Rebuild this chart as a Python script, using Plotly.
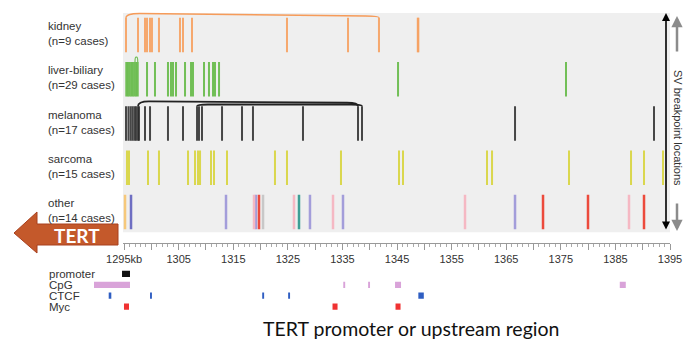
import plotly.graph_objects as go

W, H = 684, 342

# ---------------------------------------------------------------- data
axis_kb = [1294.8, 1395.0]
major_tick_kb = list(range(1295, 1396, 5))
tick_labels = ["1295kb", "", "1305", "", "1315", "", "1325", "", "1335", "", "1345", "",
               "1355", "", "1365", "", "1375", "", "1385", "", "1395"]

group_names = ["kidney", "liver-biliary", "melanoma", "sarcoma", "other"]
case_counts = [9, 29, 17, 15, 14]

# SV breakpoint positions (kb)
kidney_bp = [1295.35, 1297.55, 1298.83, 1299.2, 1299.75, 1300.11, 1301.39, 1305.24,
             1305.79, 1307.44, 1324.84, 1336.02, 1341.69, 1348.8, 1348.9]
liver_bp = [1295.4, 1295.7, 1296.0, 1296.3, 1296.6, 1296.9, 1297.2, 1297.5,
            1299.2, 1300.66, 1303.04, 1303.59, 1303.96, 1304.51, 1306.16, 1307.26,
            1307.62, 1309.64, 1310.55, 1311.29, 1311.65, 1312.39, 1345.18, 1375.95]
melanoma_bp = [1295.35, 1295.8, 1296.2, 1296.55, 1296.9, 1297.18, 1297.55,
               1297.73, 1298.83, 1299.75, 1303.04, 1305.79, 1308.36, 1308.72, 1309.27,
               1312.94, 1316.6, 1318.61, 1327.77, 1337.85, 1338.58, 1366.61, 1392.07]
sarcoma_bp = [1295.53, 1295.9, 1299.38, 1301.39, 1306.71, 1307.99, 1308.54, 1308.91,
              1310.92, 1311.47, 1313.85, 1322.64, 1324.84, 1334.73, 1345.36, 1346.09,
              1361.48, 1362.4, 1376.5, 1387.86, 1390.24, 1393.72]
other_bp = [1295.17, 1296.27, 1313.67, 1318.8, 1319.16, 1319.71, 1320.45, 1326.12,
            1327.04, 1329.05, 1333.27, 1335.1, 1357.45, 1366.61, 1371.74, 1379.98,
            1387.49, 1390.24]
other_type = ["a", "b", "c", "d", "c", "e", "f", "d", "g", "c", "d", "c", "d", "c",
              "e", "e", "d", "e"]

# breakpoint pairs joined by an arc (kb)
kidney_pairs = [(1295.35, 1341.69)]
liver_pairs = [(1297.0, 1297.5)]
melanoma_pairs = [(1297.55, 1337.85), (1308.36, 1338.58)]

# annotation tracks: intervals (kb)
track_names = ["promoter", "CpG", "CTCF", "Myc"]
promoter_iv = [(1294.62, 1296.08)]
cpg_iv = [(1289.49, 1296.08), (1335.15, 1335.5), (1339.7, 1340.05),
          (1344.63, 1345.73), (1385.8, 1386.9)]
ctcf_iv = [(1292.18, 1292.66), (1299.75, 1300.1), (1320.3, 1320.65),
           (1325.05, 1325.4), (1348.9, 1349.9)]
myc_iv = [(1294.98, 1295.9), (1333.18, 1334.1), (1344.72, 1345.64)]

# ---------------------------------------------------------------- styling
FONT = "Liberation Sans, Arial, sans-serif"
TXT = "#333333"
row_colors = {
    "kidney": "rgba(246,160,95,0.9)",
    "liver-biliary": "rgba(100,185,70,0.9)",
    "melanoma": "rgba(40,40,40,0.85)",
    "sarcoma": "rgba(215,212,60,0.9)",
}
other_colors = {"a": "#F6C87A", "b": "#6E6EC2", "c": "#A39DDA", "d": "#F5B8C3",
                "e": "#EC4A3C", "f": "#C8C8C8", "g": "#3F9E95"}
track_colors = ["#111111", "#D9A3D9", "#2F5EC2", "#F03232"]

X_L, X_R = 123, 670            # gray panel, pixels
Y_TOP, PITCH = 13, 44.2        # pixel of y=5 and pixels per row
y_range = [-0.05, 5.2]
HALF = 0.39                    # half height of a breakpoint mark (rows)

def fx(p):
    return p / W

def fy(p):
    return 1 - p / H

dom_top = Y_TOP - (y_range[1] - 5) * PITCH
dom_bot = Y_TOP + (5 - y_range[0]) * PITCH
ppk = (X_R - X_L) / (axis_kb[1] - axis_kb[0])

centers = {g: 4.5 - i for i, g in enumerate(group_names)}

fig = go.Figure()

def segments(values, c, half=HALF):
    xs, ys = [], []
    for v in values:
        xs += [v, v, None]
        ys += [c - half, c + half, None]
    return xs, ys

series = {"kidney": kidney_bp, "liver-biliary": liver_bp,
          "melanoma": melanoma_bp, "sarcoma": sarcoma_bp}
for g, vals in series.items():
    xs, ys = segments(vals, centers[g])
    fig.add_trace(go.Scatter(x=xs, y=ys, mode="lines", hoverinfo="skip",
                             line=dict(color=row_colors[g], width=2)))

for t, col in other_colors.items():
    vals = [v for v, k in zip(other_bp, other_type) if k == t]
    xs, ys = segments(vals, centers["other"])
    fig.add_trace(go.Scatter(x=xs, y=ys, mode="lines", hoverinfo="skip",
                             line=dict(color=col, width=2.5)))

shapes = [dict(type="rect", xref="x", yref="y", x0=axis_kb[0], x1=axis_kb[1],
               y0=0.04, y1=5, fillcolor="#EFEFEF", line=dict(width=0), layer="below")]

def arc(x1, x2, y0, yl, yr, r, color, width):
    path = (f"M {x1},{y0} Q {x1},{yl} {x1 + r},{yl} "
            f"L {x2 - r},{yr} Q {x2},{yr} {x2},{y0}")
    return dict(type="path", xref="x", yref="y", path=path,
                line=dict(color=color, width=width))

top_k = centers["kidney"] + HALF
for a, b in kidney_pairs:
    shapes.append(arc(a, b, top_k, 4.99, 4.93, 2.5, "rgba(246,150,80,0.95)", 1.5))
top_l = centers["liver-biliary"] + HALF
for a, b in liver_pairs:
    shapes.append(arc(a, b, top_l, top_l + 0.11, top_l + 0.11, 0.2, "rgba(100,185,70,0.9)", 1.2))
top_m = centers["melanoma"] + HALF
mel_peaks = [(3.0, 2.97), (2.93, 2.93)]
for (a, b), (pl, pr) in zip(melanoma_pairs, mel_peaks):
    shapes.append(arc(a, b, top_m, pl, pr, 2.0, "#222222", 1.8))

# annotation tracks (second subplot)
for row, (ivs, col) in enumerate(zip([promoter_iv, cpg_iv, ctcf_iv, myc_iv], track_colors)):
    yc = 3 - row
    for s, e in ivs:
        shapes.append(dict(type="rect", xref="x2", yref="y2", x0=s, x1=e,
                           y0=yc - 0.29, y1=yc + 0.29, fillcolor=col, line=dict(width=0)))

# TERT direction arrow
pts = [(14, 233), (37, 212), (37, 224), (118, 224), (118, 245), (37, 245), (37, 253)]
path = "M " + " L ".join(f"{fx(x)},{fy(y)}" for x, y in pts) + " Z"
shapes.append(dict(type="path", xref="paper", yref="paper", path=path,
                   fillcolor="#C4592B", line=dict(color="#A8401E", width=1)))

fig.add_trace(go.Scatter(x=[axis_kb[0]], y=[0], xaxis="x2", yaxis="y2",
                         mode="markers", marker=dict(opacity=0), hoverinfo="skip"))

annotations = []
for g, n in zip(group_names, case_counts):
    annotations.append(dict(text=f"{g}<br>(n={n} cases)", xref="paper", yref="y",
                            x=fx(47), y=centers[g], xanchor="left", yanchor="middle",
                            align="left", showarrow=False, borderpad=0, yshift=1.5,
                            font=dict(family=FONT, size=11.5, color=TXT)))
for i, (name, ypx) in enumerate(zip(track_names, [274, 284.5, 295.5, 306.5])):
    annotations.append(dict(text=name, xref="paper", yref="paper", x=fx(47), y=fy(ypx),
                            xanchor="left", yanchor="middle", showarrow=False,
                            font=dict(family=FONT, size=11.5, color=TXT)))
annotations.append(dict(text="<b>TERT</b>", xref="paper", yref="paper", x=fx(77), y=fy(235),
                        xanchor="center", yanchor="middle", showarrow=False, borderpad=0,
                        font=dict(family="Lato", size=19, color="white")))
annotations.append(dict(text="TERT promoter or upstream region", xref="paper", yref="paper",
                        x=fx(411), y=fy(328), xanchor="center", yanchor="middle",
                        showarrow=False, font=dict(family="Lato", size=19.5, color="#111111")))
annotations.append(dict(text="SV breakpoint locations", xref="paper", yref="paper",
                        x=fx(678), y=fy(128), xanchor="center", yanchor="middle",
                        textangle=90, showarrow=False,
                        font=dict(family=FONT, size=11, color=TXT)))
# double-headed black arrow and gray up/down arrows
annotations.append(dict(text="", xref="paper", yref="paper", x=fx(666), y=fy(13),
                        ax=0, ay=218, showarrow=True, arrowside="end+start",
                        arrowhead=2, arrowsize=1, arrowwidth=1.6, arrowcolor="black"))
annotations.append(dict(text="", xref="paper", yref="paper", x=fx(677), y=fy(16),
                        ax=0, ay=37, showarrow=True, arrowhead=2, arrowsize=0.9,
                        arrowwidth=2.5, arrowcolor="#8C8C8C"))
annotations.append(dict(text="", xref="paper", yref="paper", x=fx(677), y=fy(231),
                        ax=0, ay=-29, showarrow=True, arrowhead=2, arrowsize=0.9,
                        arrowwidth=2.5, arrowcolor="#8C8C8C"))

fig.update_layout(
    width=W, height=H, margin=dict(l=0, r=0, t=0, b=0, autoexpand=False),
    paper_bgcolor="white", plot_bgcolor="rgba(0,0,0,0)", showlegend=False,
    shapes=shapes, annotations=annotations,
    xaxis=dict(domain=[fx(X_L), fx(X_R)], range=axis_kb, anchor="free",
               position=fy(243), showline=True, linecolor="#999999", linewidth=1,
               showgrid=False, zeroline=False, ticks="outside", ticklen=6,
               tickcolor="#999999", tickmode="array", tickvals=major_tick_kb,
               ticktext=tick_labels, tickfont=dict(family=FONT, size=11, color=TXT),
               minor=dict(dtick=1, tick0=1295, ticks="outside", ticklen=2.5,
                          tickcolor="#AAAAAA", showgrid=False)),
    yaxis=dict(domain=[fy(dom_bot), fy(dom_top)], range=y_range, visible=False),
    xaxis2=dict(domain=[fx(40), fx(X_R)], anchor="y2", visible=False,
                range=[axis_kb[0] - (X_L - 40) / ppk, axis_kb[1]]),
    yaxis2=dict(domain=[fy(312), fy(268.5)], anchor="x2", range=[-0.5, 3.5], visible=False),
)

fig.write_html("out.html")
